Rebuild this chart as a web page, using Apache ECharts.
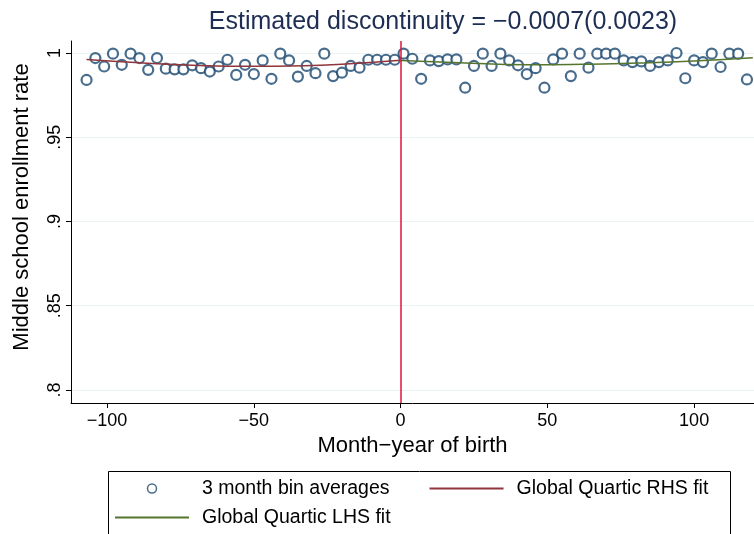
<!DOCTYPE html>
<html>
<head>
<meta charset="utf-8">
<script src="https://cdn.jsdelivr.net/npm/echarts@6/dist/echarts.min.js"></script>
<style>
  html, body { margin: 0; padding: 0; background: #fff; }
  #chart { width: 754px; height: 534px; }
</style>
</head>
<body>
<div id="chart"></div>
<script>
// 3 month bins (month-year of birth, relative to cutoff)
var binX = [
  -107, -104, -101, -98, -95, -92, -89, -86, -83, -80, -77, -74, -71, -68, -65, -62, -59, -56,
  -53, -50, -47, -44, -41, -38, -35, -32, -29, -26, -23, -20, -17, -14, -11, -8, -5, -2,
  1, 4, 7, 10, 13, 16, 19, 22, 25, 28, 31, 34, 37, 40, 43, 46, 49, 52, 55, 58,
  61, 64, 67, 70, 73, 76, 79, 82, 85, 88, 91, 94, 97, 100, 103, 106, 109, 112, 115, 118
];
// bin averages of middle school enrollment rate
var binRate = [
  0.984, 0.997, 0.992, 0.9996, 0.993, 0.9996, 0.997, 0.990, 0.997, 0.9907, 0.9903, 0.9903, 0.9927, 0.991, 0.989, 0.992, 0.996, 0.987,
  0.993, 0.9875, 0.9956, 0.9847, 0.9996, 0.9956, 0.986, 0.9923, 0.988, 0.9996, 0.9863, 0.9883, 0.9923, 0.9913, 0.996, 0.996, 0.996, 0.996,
  0.9996, 0.9966, 0.9847, 0.9956, 0.9952, 0.9962, 0.9962, 0.9794, 0.9923, 0.9996, 0.9923, 0.9996, 0.9956, 0.9927, 0.9875, 0.991, 0.9794, 0.9962, 0.9996, 0.9863,
  0.9996, 0.9913, 0.9996, 0.9996, 0.9996, 0.9956, 0.9946, 0.995, 0.9923, 0.9946, 0.9956, 1.0, 0.985, 0.9956, 0.9946, 0.9996, 0.9917, 0.9996, 0.9996, 0.9843
];
// quartic fit (left of cutoff, red)
var fitLeftX = [-107, -89, -71, -52, -33, -16, 0];
var fitLeftY = [0.9962, 0.9942, 0.9928, 0.9921, 0.9924, 0.9938, 0.9957];
// quartic fit right of cutoff (green)
var fitRightX = [0, 20, 43, 62, 81, 100, 120];
var fitRightY = [0.9955, 0.9942, 0.993, 0.9933, 0.994, 0.9952, 0.9972];

var xTicks = [-100, -50, 0, 50, 100];
var yTicks = [0.8, 0.85, 0.9, 0.95, 1];
var yTickLabels = [".8", ".85", ".9", ".95", "1"];

var FONT = "'Liberation Sans', Arial, sans-serif";
var NAVY = "#1a476f";
var MAROON = "#90353b";
var GREEN = "#55752f";

function pairs(xs, ys) {
  return xs.map(function (x, i) { return [x, ys[i]]; });
}

var chart = echarts.init(document.getElementById("chart"));
chart.setOption({
  backgroundColor: "#fff",
  animation: false,
  textStyle: { fontFamily: FONT },
  title: {
    text: "Estimated discontinuity = \u22120.0007(0.0023)",
    left: 438,
    textAlign: "center",
    top: 5,
    textStyle: { fontSize: 25, fontWeight: "normal", color: "#1e2d53", fontFamily: FONT }
  },
  grid: { left: 71, right: 0, top: 41, bottom: 131, containLabel: false },
  xAxis: {
    type: "value",
    min: -112.3,
    max: 120.4,
    name: "Month\u2212year of birth",
    nameLocation: "middle",
    nameGap: 31,
    nameTextStyle: { fontSize: 22, color: "#000", fontFamily: FONT },
    axisLine: { onZero: false, lineStyle: { color: "#000", width: 1 } },
    axisTick: { customValues: xTicks, length: 5, lineStyle: { color: "#000" } },
    axisLabel: {
      customValues: xTicks,
      fontSize: 18,
      color: "#000",
      margin: 9,
      formatter: function (v) { return String(v).replace("-", "\u2212"); }
    },
    splitLine: { show: false }
  },
  yAxis: {
    type: "value",
    min: 0.79228,
    max: 1.00712,
    name: "Middle school enrollment rate",
    nameLocation: "middle",
    nameRotate: 90,
    nameGap: 38,
    nameTextStyle: { fontSize: 22, color: "#000", fontFamily: FONT, padding: [0, 0, 0, 30] },
    axisLine: { show: true, onZero: false, lineStyle: { color: "#000", width: 1 } },
    axisTick: { customValues: yTicks, length: 5, lineStyle: { color: "#000" } },
    axisLabel: {
      customValues: yTicks,
      rotate: 90,
      fontSize: 18,
      color: "#000",
      margin: 7,
      formatter: function (v) {
        var i = yTicks.indexOf(Math.round(v * 100) / 100);
        return i >= 0 ? yTickLabels[i] : "";
      }
    },
    splitLine: { show: true, lineStyle: { color: "#eaf2f3", width: 1 } }
  },
  legend: {
    left: 114,
    top: 474,
    width: 630,
    itemGap: 0,
    itemWidth: 74,
    itemHeight: 9,
    padding: 0,
    textStyle: { fontSize: 19.5, color: "#000", lineHeight: 29, padding: [0, 39, 0, 8], fontFamily: FONT },
    data: [
      { name: "3 month bin averages", icon: "circle",
        itemStyle: { color: "#fff", borderColor: NAVY, borderWidth: 1.5 } },
      { name: "Global Quartic RHS fit", itemStyle: { opacity: 0 },
        textStyle: { padding: [0, 9, 0, 8] } },
      { name: "Global Quartic LHS fit", itemStyle: { opacity: 0 } }
    ]
  },
  graphic: [
    { type: "rect", left: 106, top: 469, shape: { width: 622, height: 80 },
      style: { fill: "none", stroke: "#000", lineWidth: 1 }, silent: true }
  ],
  series: [
    {
      name: "3 month bin averages",
      type: "scatter",
      data: pairs(binX, binRate),
      symbol: "circle",
      symbolSize: 10,
      itemStyle: { color: "#fff", borderColor: NAVY, borderWidth: 2.2 },
      z: 2,
      markLine: {
        silent: true,
        symbol: "none",
        label: { show: false },
        lineStyle: { color: "#dc143c", width: 1.5, type: "solid" },
        data: [{ xAxis: 0 }]
      }
    },
    {
      name: "Global Quartic RHS fit",
      type: "line",
      data: pairs(fitLeftX, fitLeftY),
      smooth: true,
      symbol: "none",
      lineStyle: { color: MAROON, width: 1.5 },
      itemStyle: { color: MAROON },
      z: 3
    },
    {
      name: "Global Quartic LHS fit",
      type: "line",
      data: pairs(fitRightX, fitRightY),
      smooth: true,
      symbol: "none",
      lineStyle: { color: GREEN, width: 1.5 },
      itemStyle: { color: GREEN },
      z: 3
    }
  ]
});
</script>
</body>
</html>
